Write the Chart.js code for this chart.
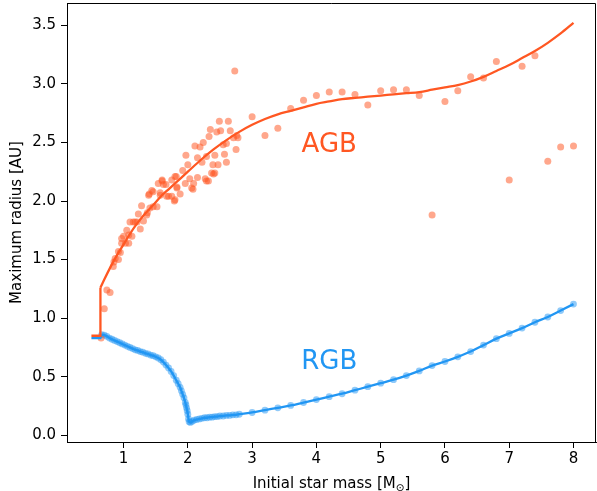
<!DOCTYPE html>
<html>
<head>
<meta charset="utf-8">
<script src="https://cdn.jsdelivr.net/npm/chart.js@4"></script>
<style>
  html, body { margin: 0; padding: 0; background: #fff; }
  #wrap { width: 597px; height: 491px; }
</style>
</head>
<body>
<div id="wrap"><canvas id="chart" width="597" height="491"></canvas></div>
<script>
// ---------------------------------------------------------------------------
// Data
// ---------------------------------------------------------------------------
var xTicks = [1, 2, 3, 4, 5, 6, 7, 8];
var yTicks = [0, 0.5, 1, 1.5, 2, 2.5, 3, 3.5];

// AGB model line (first three points are the step at low mass)
var agbLineX = [0.5, 0.64, 0.64, 0.7, 0.8, 0.9, 1.0, 1.1, 1.2, 1.3, 1.4, 1.5, 1.6, 1.7, 1.8, 1.9, 2.0,
  2.2, 2.4, 2.6, 2.8, 3.0, 3.2, 3.4, 3.6, 3.8, 4.0, 4.2, 4.4, 4.6, 4.8, 5.0, 5.2, 5.4, 5.6, 5.8,
  6.0, 6.2, 6.4, 6.6, 6.8, 7.0, 7.2, 7.4, 7.6, 7.8, 8.0];
var agbLineY = [0.85, 0.85, 1.26, 1.33, 1.44, 1.54, 1.63, 1.72, 1.80, 1.87, 1.93, 1.99, 2.05, 2.10, 2.15, 2.20, 2.25,
  2.35, 2.44, 2.52, 2.59, 2.65, 2.70, 2.74, 2.77, 2.80, 2.83, 2.85, 2.87, 2.88, 2.89, 2.90, 2.91, 2.92, 2.93, 2.95,
  2.97, 2.99, 3.02, 3.06, 3.11, 3.16, 3.22, 3.28, 3.35, 3.43, 3.52];

// AGB measured points
var agbPtsX = [0.65, 0.70, 0.74, 0.79, 0.84, 0.85, 0.87, 0.92, 0.92, 0.95, 0.97, 0.97, 1.00, 1.03, 1.05, 1.08, 1.08,
  1.10, 1.13, 1.15, 1.18, 1.21, 1.23, 1.26, 1.28, 1.31, 1.36, 1.37, 1.39, 1.40, 1.41, 1.44, 1.46, 1.46, 1.52,
  1.54, 1.57, 1.57, 1.60, 1.60, 1.62, 1.66, 1.67, 1.70, 1.75, 1.75, 1.79, 1.80, 1.80, 1.82, 1.83, 1.83, 1.88,
  1.92, 1.96, 1.97, 2.00, 2.03, 2.06, 2.08, 2.09, 2.11, 2.15, 2.15, 2.19, 2.22, 2.24, 2.27, 2.29, 2.29, 2.32,
  2.33, 2.35, 2.37, 2.39, 2.40, 2.42, 2.42, 2.45, 2.47, 2.49, 2.51, 2.55, 2.57, 2.60, 2.60, 2.63, 2.66, 2.71,
  2.73, 2.75, 2.76, 2.78,
  3.0, 3.2, 3.4, 3.6, 3.8, 4.0, 4.2, 4.4, 4.6, 4.8, 5.0, 5.2, 5.4, 5.6, 5.8, 6.0, 6.2, 6.4, 6.6, 6.8,
  7.0, 7.2, 7.4, 7.6, 7.8, 8.0];
var agbPtsY = [0.83, 1.08, 1.24, 1.22, 1.44, 1.48, 1.51, 1.50, 1.57, 1.56, 1.64, 1.68, 1.70, 1.64, 1.75, 1.64, 1.71,
  1.82, 1.70, 1.82, 1.82, 1.82, 1.89, 1.76, 1.96, 1.83, 1.88, 1.90, 2.05, 2.06, 1.94, 2.09, 2.08, 1.95, 1.95,
  2.15, 2.07, 2.05, 2.17, 2.18, 2.14, 2.14, 2.04, 2.04, 2.18, 2.04, 2.00, 2.21, 2.01, 2.21, 2.12, 2.11, 2.06,
  2.26, 2.15, 2.39, 2.31, 2.19, 2.11, 2.10, 2.15, 2.47, 2.37, 2.20, 2.46, 2.33, 2.50, 2.19, 2.17, 2.38, 2.17,
  2.55, 2.61, 2.24, 2.31, 2.23, 2.39, 2.24, 2.59, 2.31, 2.68, 2.60, 2.48, 2.40, 2.33, 2.49, 2.68, 2.60, 2.54,
  3.11, 2.44, 2.56, 2.54,
  2.72, 2.56, 2.62, 2.79, 2.86, 2.90, 2.93, 2.93, 2.91, 2.82, 2.94, 2.95, 2.95, 2.90, 1.88, 2.85, 2.94, 3.06, 3.05, 3.19,
  2.18, 3.15, 3.24, 2.34, 2.46, 2.47];

// RGB measured points
var rgbPtsX = [0.66, 0.70, 0.74, 0.78, 0.82, 0.86, 0.90, 0.94, 0.98, 1.02, 1.06, 1.10, 1.14, 1.18, 1.22, 1.26,
  1.30, 1.34, 1.38, 1.42, 1.46, 1.50, 1.54, 1.58, 1.62, 1.66, 1.70, 1.74, 1.78, 1.82, 1.85, 1.88, 1.90, 1.92,
  1.94, 1.96, 1.97, 1.98, 1.99, 2.00, 2.01, 2.02, 2.04, 2.07, 2.10, 2.14, 2.18, 2.22, 2.26, 2.30, 2.34, 2.38,
  2.42, 2.46, 2.50, 2.55, 2.60, 2.65, 2.70, 2.75, 2.80,
  3.0, 3.2, 3.4, 3.6, 3.8, 4.0, 4.2, 4.4, 4.6, 4.8, 5.0, 5.2, 5.4, 5.6, 5.8, 6.0, 6.2, 6.4, 6.6, 6.8,
  7.0, 7.2, 7.4, 7.6, 7.8, 8.0];
var rgbPtsY = [0.86, 0.855, 0.845, 0.83, 0.82, 0.81, 0.80, 0.79, 0.78, 0.77, 0.76, 0.75, 0.74, 0.73, 0.725, 0.715,
  0.71, 0.70, 0.695, 0.685, 0.68, 0.67, 0.66, 0.645, 0.625, 0.60, 0.575, 0.545, 0.51, 0.47, 0.44, 0.41, 0.38, 0.35,
  0.32, 0.28, 0.26, 0.235, 0.21, 0.18, 0.14, 0.115, 0.11, 0.12, 0.13, 0.135, 0.14, 0.145, 0.15, 0.15, 0.155, 0.155,
  0.16, 0.16, 0.165, 0.165, 0.17, 0.17, 0.175, 0.175, 0.18,
  0.195, 0.215, 0.235, 0.255, 0.28, 0.305, 0.33, 0.355, 0.385, 0.415, 0.445, 0.475, 0.51, 0.55, 0.595, 0.63,
  0.67, 0.715, 0.77, 0.825, 0.87, 0.915, 0.965, 1.01, 1.065, 1.12];

// RGB model line: flat start, then follows the measured points
var rgbStepX = [0.5, 0.64, 0.66];
var rgbStepY = [0.83, 0.83, 0.86];

// ---------------------------------------------------------------------------
// Styling
// ---------------------------------------------------------------------------
var ORANGE = '#ff5722';
var ORANGE_PT = 'rgba(255, 87, 34, 0.52)';
var BLUE = '#2196f3';
var BLUE_PT = 'rgba(33, 150, 243, 0.5)';
var FONT = 'DejaVu Sans';

function toXY(xs, ys) {
  return xs.map(function(x, i) { return { x: x, y: ys[i] }; });
}

function lineSet(label, pts, color, order, smooth) {
  return {
    label: label,
    data: pts,
    showLine: true,
    borderColor: color,
    borderWidth: 2.3,
    pointRadius: 0,
    cubicInterpolationMode: smooth ? 'monotone' : 'default',
    tension: 0,
    order: order
  };
}

// Frame, annotations and axis titles
var decorations = {
  id: 'decorations',
  afterDraw: function(chart) {
    var ctx = chart.ctx;
    var area = chart.chartArea;
    var xs = chart.scales.x;
    var ys = chart.scales.y;

    ctx.save();
    // top + right spines
    ctx.strokeStyle = '#000';
    ctx.lineWidth = 1;
    ctx.beginPath();
    ctx.moveTo(area.left, Math.round(area.top) + 0.5);
    ctx.lineTo(Math.round(area.right) - 0.5, Math.round(area.top) + 0.5);
    ctx.lineTo(Math.round(area.right) - 0.5, area.bottom);
    ctx.stroke();

    // in-plot labels
    ctx.font = '26px "' + FONT + '"';
    ctx.textAlign = 'center';
    ctx.textBaseline = 'alphabetic';
    ctx.fillStyle = ORANGE;
    ctx.fillText('AGB', xs.getPixelForValue(4.2), ys.getPixelForValue(2.5) + 9.5);
    ctx.fillStyle = BLUE;
    ctx.fillText('RGB', xs.getPixelForValue(4.2), ys.getPixelForValue(0.65) + 9.5);

    // x axis title with subscript sun symbol
    ctx.fillStyle = '#000';
    ctx.textAlign = 'left';
    var main = 'Initial star mass [M';
    var sub = '\u2299';
    ctx.font = '15px "' + FONT + '"';
    var wMain = ctx.measureText(main).width;
    var wClose = ctx.measureText(']').width;
    ctx.font = '10.5px "' + FONT + '"';
    var wSub = ctx.measureText(sub).width;
    var total = wMain + wSub + wClose;
    var cx = (area.left + area.right) / 2;
    var x0 = cx - total / 2;
    var base = 487.5;
    ctx.font = '15px "' + FONT + '"';
    ctx.fillText(main, x0, base);
    ctx.font = '10.5px "' + FONT + '"';
    ctx.fillText(sub, x0 + wMain, base + 3);
    ctx.font = '15px "' + FONT + '"';
    ctx.fillText(']', x0 + wMain + wSub, base);

    // y axis title
    ctx.translate(21, (area.top + area.bottom) / 2);
    ctx.rotate(-Math.PI / 2);
    ctx.textAlign = 'center';
    ctx.fillText('Maximum radius [AU]', 0, 0);
    ctx.restore();
  }
};

var tickFont = { family: FONT, size: 15 };

new Chart(document.getElementById('chart'), {
  type: 'scatter',
  data: {
    datasets: [
      lineSet('AGB step', toXY(agbLineX.slice(0, 3), agbLineY.slice(0, 3)), ORANGE, 0, false),
      lineSet('AGB line', toXY(agbLineX.slice(2), agbLineY.slice(2)), ORANGE, 0, true),
      lineSet('RGB step', toXY(rgbStepX, rgbStepY), BLUE, 1, false),
      lineSet('RGB line', toXY(rgbPtsX, rgbPtsY), BLUE, 1, true),
      {
        label: 'AGB points',
        data: toXY(agbPtsX, agbPtsY),
        backgroundColor: ORANGE_PT,
        borderWidth: 0,
        pointRadius: 3.5,
        order: 2
      },
      {
        label: 'RGB points',
        data: toXY(rgbPtsX, rgbPtsY),
        backgroundColor: BLUE_PT,
        borderWidth: 0,
        pointRadius: 3.4,
        order: 3
      }
    ]
  },
  options: {
    responsive: false,
    animation: false,
    devicePixelRatio: 1,
    layout: { autoPadding: false, padding: { top: 3, right: 1, left: 0, bottom: 0 } },
    plugins: {
      legend: { display: false },
      tooltip: { enabled: false }
    },
    scales: {
      x: {
        type: 'linear',
        min: 0.12,
        max: 8.35,
        afterBuildTicks: function(s) { s.ticks = xTicks.map(function(v) { return { value: v }; }); },
        afterFit: function(s) { s.height = 49; s.paddingLeft = 0; s.paddingRight = 0; },
        grid: { drawOnChartArea: false, drawTicks: true, tickLength: 6, color: '#000' },
        border: { display: true, color: '#000', width: 1 },
        ticks: {
          color: '#000', font: tickFont, padding: 2, maxRotation: 0, autoSkip: false,
          callback: function(v) { return String(v); }
        }
      },
      y: {
        type: 'linear',
        min: -0.057,
        max: 3.69,
        afterBuildTicks: function(s) { s.ticks = yTicks.map(function(v) { return { value: v }; }); },
        afterFit: function(s) { s.width = 67; s.paddingTop = 0; s.paddingBottom = 0; },
        grid: { drawOnChartArea: false, drawTicks: true, tickLength: 6, color: '#000' },
        border: { display: true, color: '#000', width: 1 },
        ticks: {
          color: '#000', font: tickFont, padding: 5, autoSkip: false,
          callback: function(v) { return v.toFixed(1); }
        }
      }
    }
  },
  plugins: [decorations]
});
</script>
</body>
</html>
